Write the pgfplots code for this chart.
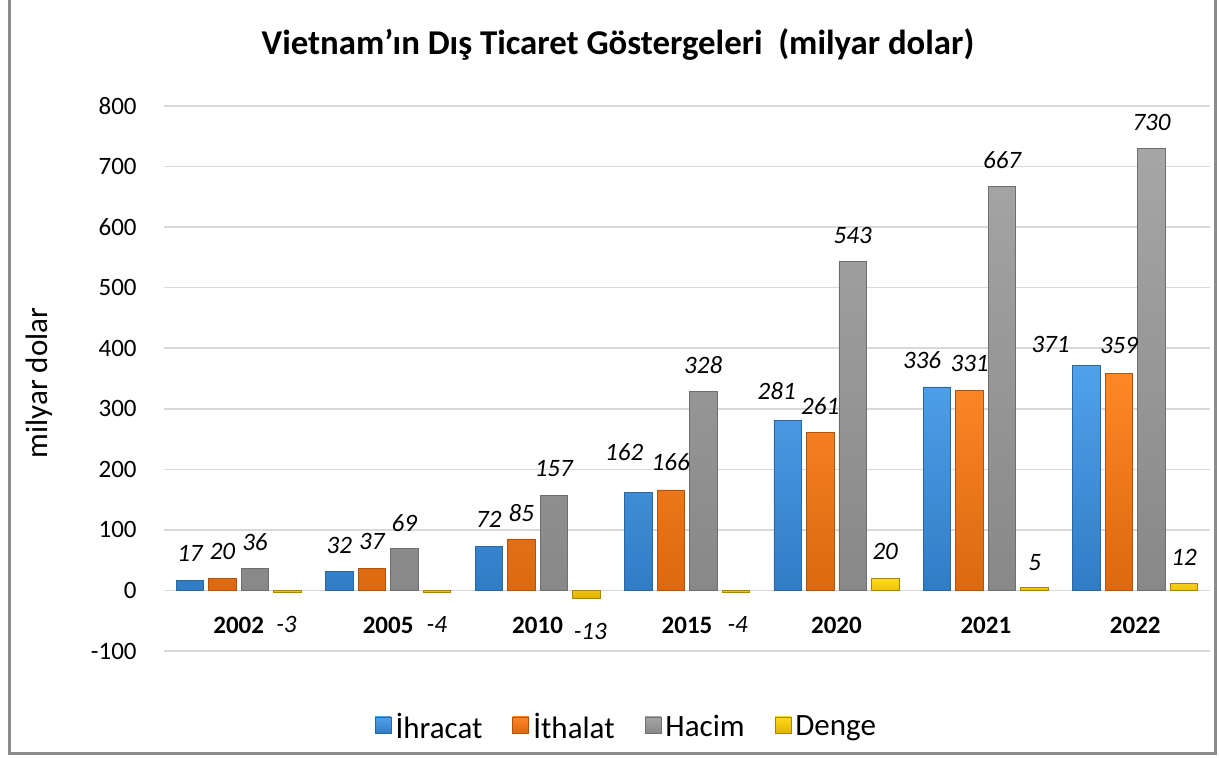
\documentclass[border=0pt]{standalone}
\usepackage{fontspec}
\setmainfont{Carlito}
\usepackage{pgfplots}
\pgfplotsset{compat=1.18}
\usepackage{pgfplotstable}

\definecolor{bluet}{HTML}{4FA2EA}
\definecolor{blueb}{HTML}{327CC6}
\definecolor{blued}{HTML}{2A66A0}
\definecolor{oranget}{HTML}{FC8826}
\definecolor{orangeb}{HTML}{DC6810}
\definecolor{oranged}{HTML}{B4520C}
\definecolor{grayt}{HTML}{A6A6A6}
\definecolor{grayb}{HTML}{888888}
\definecolor{grayd}{HTML}{6E6E6E}
\definecolor{yellowt}{HTML}{FFD91C}
\definecolor{yellowb}{HTML}{E0B400}
\definecolor{yellowd}{HTML}{A88400}
\definecolor{gridc}{HTML}{D9D9D9}
\definecolor{framec}{HTML}{8C8C8C}

\pgfplotstableread{
x y lab dx dy
0 17 17 0 13.5
1 32 32 0 13
2 72 72 0 13.5
3 162 162 -7 20
4 281 281 -5.5 14.5
5 336 336 -7.5 13.5
6 371 371 -18 10.5
}\ihr

\pgfplotstableread{
x y lab dx dy
0 20 20 0 13.5
1 37 37 0 13.5
2 85 85 0 13
3 166 166 0 14
4 261 261 0 13.3
5 331 331 0 13.5
6 359 359 0 14
}\ith

\pgfplotstableread{
x y lab dx dy
0 36 36 0 13
1 69 69 0 13
2 157 157 0 13.5
3 328 328 0 13.5
4 543 543 0 13
5 667 667 0 13
6 730 730 0 13
}\hac

\pgfplotstableread{
x y lab dx dy
0 -3 -3 -0.5 -16
1 -4 -4 0 -16
2 -13 -13 2 -16.5
3 -4 -4 1 -16
4 20 20 0 13.5
5 5 5 0 12.5
6 12 12 0 13
}\den

\begin{document}
\begin{tikzpicture}[x=1pt,y=1pt]
\begin{axis}[
  at={(82pt,53.5pt)}, anchor=south west,
  scale only axis, width=523pt, height=272.5pt,
  ybar=2.5pt, bar width=13.75pt,
  xmin=-0.5, xmax=6.5, ymin=-100, ymax=800,
  xtick={0,...,6}, xticklabels={2002,2005,2010,2015,2020,2021,2022},
  ytick={-100,0,...,800},
  major tick length=0pt,
  axis line style={draw=none},
  ymajorgrids, grid style={draw=gridc, line width=0.75pt},
  xticklabel style={font=\fontsize{12.5}{15}\selectfont\bfseries, anchor=center, yshift=13pt},
  yticklabel style={font=\fontsize{12.5}{15}\selectfont, anchor=east, inner sep=0pt, xshift=-13.5pt},
  /pgf/number format/assume math mode=true,
  point meta=explicit symbolic,
  nodes near coords,
  visualization depends on={\thisrow{dx} \as \dx},
  visualization depends on={\thisrow{dy} \as \dy},
  every node near coord/.append style={font=\fontsize{12.5}{15}\selectfont\itshape, anchor=center, xshift=\dx pt, yshift=\dy pt, text=black},
  legend style={at={(0.443,-0.1394)}, anchor=center, draw=none, fill=none,
    legend columns=-1, font=\fontsize{15.5}{18}\selectfont,
    /tikz/every even column/.append style={column sep=13pt},
    /tikz/every odd column/.append style={column sep=0pt},
    nodes={inner xsep=2pt, inner ysep=0pt}},
  legend image code/.code={\draw[#1] (0pt,-3pt) rectangle (8pt,5pt);},
  clip=false,
]
\addplot[draw=blued, line width=0.4pt, top color=bluet, bottom color=blueb] table[x=x,y=y,meta=lab]{\ihr};
\addplot[draw=oranged, line width=0.4pt, top color=oranget, bottom color=orangeb] table[x=x,y=y,meta=lab]{\ith};
\addplot[draw=grayd, line width=0.4pt, top color=grayt, bottom color=grayb] table[x=x,y=y,meta=lab]{\hac};
\addplot[draw=yellowd, line width=0.4pt, top color=yellowt, bottom color=yellowb] table[x=x,y=y,meta=lab]{\den};
\legend{İhracat, İthalat, Hacim, Denge}
\end{axis}
\node[font=\fontsize{17.4}{20}\selectfont\bfseries] at (309,356.5) {Vietnam'ın Dış Ticaret Göstergeleri\ \ (milyar dolar)};
\node[rotate=90, font=\fontsize{15.5}{18}\selectfont] at (19.5,187.5) {milyar dolar};
\draw[framec, line width=1.5pt] (4.5,381)--(4.5,2)--(607.5,2)--(607.5,381);
\pgfresetboundingbox
\useasboundingbox (0,0) rectangle (609.5,379);
\end{tikzpicture}
\end{document}
